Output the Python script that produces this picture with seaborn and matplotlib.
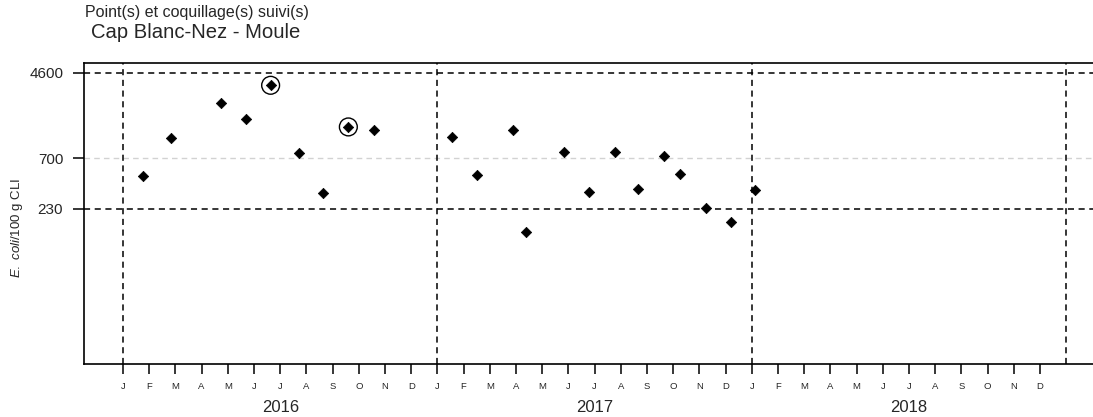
import numpy as np
import pandas as pd
import matplotlib
matplotlib.use("Agg")
import matplotlib.pyplot as plt
import matplotlib.transforms as mtransforms
import seaborn as sns

# ---------------- data ----------------
dates = ["2016-01-25", "2016-02-25", "2016-04-23", "2016-05-22", "2016-06-20",
         "2016-07-23", "2016-08-21", "2016-09-19", "2016-10-19",
         "2017-01-18", "2017-02-15", "2017-03-29", "2017-04-12", "2017-05-27",
         "2017-06-25", "2017-07-25", "2017-08-21", "2017-09-20", "2017-10-09",
         "2017-11-09", "2017-12-07", "2018-01-05"]
values = [478, 1086, 2345, 1671, 3480, 787, 327, 1393, 1313,
          1117, 489, 1313, 139, 804, 334, 809, 357, 731, 499, 235, 171, 349]
circled = [False, False, False, False, True, False, False, True, False,
           False, False, False, False, False, False, False, False, False, False,
           False, False, False]
thresholds_black = [230, 4600]
threshold_grey = 700
years = [2016, 2017, 2018]
month_letters = ["J", "F", "M", "A", "M", "J", "J", "A", "S", "O", "N", "D"]
title_small = "Point(s) et coquillage(s) suivi(s)"
title_big = "Cap Blanc-Nez - Moule"

# ---------------- prep ----------------
d = pd.to_datetime(pd.Series(dates))
month_pos = ((d.dt.year - years[0]) * 12 + (d.dt.month - 1)
             + (d.dt.day - 1) / d.dt.days_in_month)
df = pd.DataFrame({"x": month_pos, "y": values, "circ": circled})

sns.set_style("white")
plt.rcParams["font.family"] = ["Liberation Sans", "DejaVu Sans"]
plt.rcParams["mathtext.fontset"] = "custom"
plt.rcParams["mathtext.it"] = "Liberation Sans:italic"
plt.rcParams["mathtext.rm"] = "Liberation Sans"

fig = plt.figure(figsize=(10.93, 4.17), dpi=100)
W, H = 1093, 417
left_px, right_px, top_px, bot_px = 84, 1100, 63, 364
ax = fig.add_axes([left_px / W, 1 - bot_px / H,
                   (right_px - left_px) / W, (bot_px - top_px) / H])

ax.set_yscale("log")
ax.set_ylim(7.6, 5680)
ax.set_xlim(-1.49, 37.29)

# reference lines
for t in thresholds_black:
    ax.axhline(t, color="black", lw=1.1, ls=(0, (4, 3)), zorder=1)
ax.axhline(threshold_grey, color="#d2d2d2", lw=1.0, ls=(0, (4, 3)), zorder=1)
for i in range(len(years) + 1):
    ax.axvline(12 * i, color="black", lw=1.1, ls=(0, (4, 3)), zorder=1)

# points
sns.scatterplot(data=df, x="x", y="y", marker="D", s=28, color="black",
                edgecolor="black", linewidth=0.5, ax=ax, zorder=3, legend=False)
sns.scatterplot(data=df[df["circ"]], x="x", y="y", marker="o", s=165,
                facecolor="none", edgecolor="black", linewidth=1.0, ax=ax,
                zorder=3, legend=False)

# axes styling
for side in ["left", "top", "bottom"]:
    ax.spines[side].set_color("black")
    ax.spines[side].set_linewidth(1.2)
ax.spines["right"].set_visible(False)

ax.set_yticks([230, 700, 4600])
ax.set_yticklabels(["230", "700", "4600"])
ax.yaxis.set_minor_locator(matplotlib.ticker.NullLocator())
ax.tick_params(axis="y", which="major", length=8, width=1.1, color="black",
               labelsize=11, pad=7, left=True)

n_months = 12 * len(years)
ax.set_xticks(np.arange(n_months))
ax.set_xticklabels([month_letters[i % 12] for i in range(n_months)])
ax.tick_params(axis="x", which="major", length=7, width=1.1, color="black",
               labelsize=6.8, pad=6, bottom=True)

trans = mtransforms.blended_transform_factory(ax.transData, fig.transFigure)
for i, yr in enumerate(years):
    ax.text(12 * i + 6, 1 - 407 / H, str(yr), transform=trans,
            ha="center", va="center", fontsize=12)

ax.set_xlabel("")
ax.set_ylabel("")
fig.text(17 / W, 1 - 228 / H, r"$\it{E.}$ $\it{coli}$/100 g CLI", rotation=90,
         ha="center", va="center", fontsize=9.5)

fig.text(85 / W, 1 - 13 / H, title_small, ha="left", va="center", fontsize=11.5)
fig.text(91 / W, 1 - 33 / H, title_big, ha="left", va="center", fontsize=14.6)

fig.savefig("out.png", dpi=100)
